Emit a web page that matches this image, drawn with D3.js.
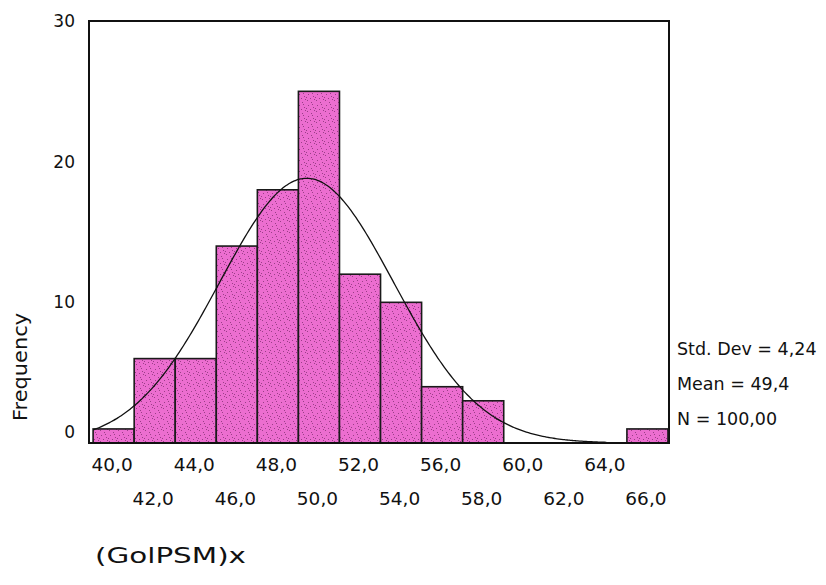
<!DOCTYPE html>
<html>
<head>
<meta charset="utf-8">
<script src="https://cdn.jsdelivr.net/npm/d3@7"></script>
<style>
  html, body { margin: 0; padding: 0; background: #fff; }
  svg { display: block; }
  text { font-family: "DejaVu Sans", "Liberation Sans", sans-serif; fill: #111; }
</style>
</head>
<body>
<svg id="chart" width="826" height="585"></svg>
<script>
// Histogram of (GolPSM)x: bins of width 2, starting at each value below
const binStarts = [39, 41, 43, 45, 47, 49, 51, 53, 55, 57, 59, 61, 63, 65];
const frequencies = [1, 6, 6, 14, 18, 25, 12, 10, 4, 3, 0, 0, 0, 1];
const binWidth = 2;

// Tick labels: the x labels alternate between two rows
const xTicksUpper = [40, 44, 48, 52, 56, 60, 64];
const xTicksLower = [42, 46, 50, 54, 58, 62, 66];
const yTicks = [0, 10, 20, 30];

// Summary statistics shown beside the plot
const stdDev = 4.24;
const mean = 49.4;
const count = 100;
const curveRange = [39, 64];

const svg = d3.select("#chart");
const plotLeft = 89, plotRight = 669, plotTop = 21, plotBottom = 443;

const x = d3.scaleLinear().domain([38.8, 67.05]).range([plotLeft, plotRight]);
const y = d3.scaleLinear().domain([0, 30]).range([plotBottom, plotTop]);

const locale = d3.formatLocale({ decimal: ",", thousands: ".", grouping: [3], currency: ["", ""] });
const fmt1 = locale.format(".1f");
const fmt2 = locale.format(".2f");

// Speckled pink fill for the bars
const defs = svg.append("defs");
const pat = defs.append("pattern")
  .attr("id", "speckle")
  .attr("patternUnits", "userSpaceOnUse")
  .attr("width", 9).attr("height", 11);
pat.append("rect").attr("width", 9).attr("height", 11).attr("fill", "#ec6ed0");
const dots = [[1, 1], [5, 3], [2, 6], [7, 8], [4, 10], [8, 0], [0, 9], [6, 5]];
pat.selectAll("rect.dot").data(dots).join("rect")
  .attr("class", "dot")
  .attr("x", d => d[0]).attr("y", d => d[1])
  .attr("width", 1).attr("height", 1)
  .attr("fill", "#7a2a6a").attr("opacity", 0.7);

// Frame of the plot area
svg.append("rect")
  .attr("x", plotLeft).attr("y", plotTop)
  .attr("width", plotRight - plotLeft).attr("height", plotBottom - plotTop)
  .attr("fill", "#fff").attr("stroke", "#111").attr("stroke-width", 2);

// Bars
const bins = binStarts.map((s, i) => ({ x0: s, x1: s + binWidth, f: frequencies[i] }));
svg.append("g").selectAll("rect").data(bins.filter(d => d.f > 0)).join("rect")
  .attr("x", d => x(d.x0))
  .attr("y", d => y(d.f))
  .attr("width", d => x(d.x1) - x(d.x0))
  .attr("height", d => y(0) - y(d.f))
  .attr("fill", "url(#speckle)")
  .attr("stroke", "#1a1a1a")
  .attr("stroke-width", 1.6);

// Normal curve scaled to the counts per bin
const norm = v => count * binWidth / (stdDev * Math.sqrt(2 * Math.PI)) *
  Math.exp(-0.5 * Math.pow((v - mean) / stdDev, 2));
const curvePts = d3.range(curveRange[0], curveRange[1] + 0.001, 0.1);
svg.append("path")
  .datum(curvePts)
  .attr("fill", "none")
  .attr("stroke", "#111")
  .attr("stroke-width", 1.3)
  .attr("d", d3.line().x(v => x(v)).y(v => y(norm(v))).curve(d3.curveBasis));

// Bottom line of the frame on top of bars
svg.append("line")
  .attr("x1", plotLeft).attr("x2", plotRight).attr("y1", plotBottom).attr("y2", plotBottom)
  .attr("stroke", "#111").attr("stroke-width", 2);

// Y axis labels
const yAxis = svg.append("g")
  .attr("transform", `translate(${plotLeft},0)`)
  .call(d3.axisLeft(y).tickValues(yTicks).tickSize(0).tickPadding(14).tickFormat(d3.format("d")));
yAxis.select(".domain").remove();
yAxis.selectAll("text")
  .attr("font-size", 17)
  .attr("font-family", "DejaVu Sans, sans-serif")
  .attr("fill", "#111")
  .attr("dy", d => d === 0 ? "-0.3em" : "0.32em");

// X axis labels in two staggered rows
const xUpper = svg.append("g")
  .attr("transform", `translate(0,${plotBottom})`)
  .call(d3.axisBottom(x).tickValues(xTicksUpper).tickSize(0).tickPadding(15).tickFormat(fmt1));
const xLower = svg.append("g")
  .attr("transform", `translate(0,${plotBottom})`)
  .call(d3.axisBottom(x).tickValues(xTicksLower).tickSize(0).tickPadding(49).tickFormat(fmt1));
[xUpper, xLower].forEach(g => {
  g.select(".domain").remove();
  g.selectAll("text")
    .attr("font-size", 18.5)
    .attr("font-family", "DejaVu Sans, sans-serif")
    .attr("fill", "#111")
    .attr("dx", "-2");
});

// Axis titles
svg.append("text")
  .attr("transform", "translate(27,367) rotate(-90)")
  .attr("text-anchor", "middle")
  .attr("font-size", 19)
  .attr("textLength", 108)
  .attr("lengthAdjust", "spacingAndGlyphs")
  .text("Frequency");

svg.append("text")
  .attr("x", 95).attr("y", 563)
  .attr("font-size", 21)
  .attr("textLength", 151)
  .attr("lengthAdjust", "spacingAndGlyphs")
  .text("(GolPSM)x");

// Statistics block
const stats = [
  `Std. Dev = ${fmt2(stdDev)}`,
  `Mean = ${fmt1(mean)}`,
  `N = ${fmt2(count)}`
];
svg.append("g").selectAll("text").data(stats).join("text")
  .attr("x", 677)
  .attr("y", (d, i) => 355 + i * 35)
  .attr("font-size", 17.5)
  .text(d => d);
</script>
</body>
</html>
